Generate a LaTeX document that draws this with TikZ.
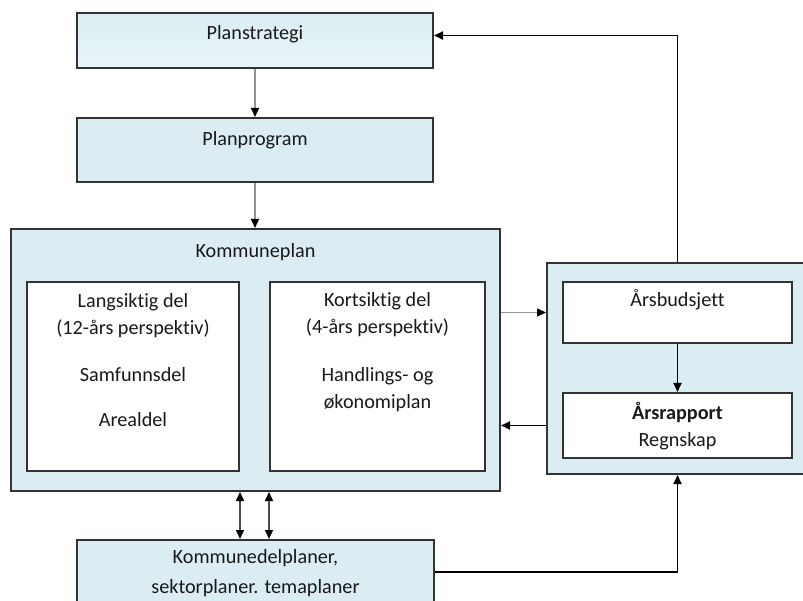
\documentclass[tikz,border=0pt]{standalone}
\usepackage{fontspec}
\setmainfont{Carlito}[Ligatures=NoCommon]
\usepackage{xcolor}
\usetikzlibrary{positioning}
\usetikzlibrary{arrows.meta}
\definecolor{boxblue}{RGB}{219,237,243}
\definecolor{boxpale}{RGB}{233,245,248}
\definecolor{linegray}{RGB}{150,150,150}

\begin{document}
\begin{tikzpicture}[x=1pt,y=-1pt,
  >={Triangle[length=9pt,width=8pt]},
  box/.style={draw=black!80,line width=2pt,fill=boxblue,inner sep=0pt},
  part/.style={draw=black!80,line width=2pt,fill=white,inner sep=0pt},
  txt/.style={font=\fontsize{20.2}{27}\selectfont,text=black!90,align=center,anchor=base,inner sep=0pt},
  conn/.style={line width=1.8pt,->},
  grayconn/.style={line width=1.5pt,draw=linegray,-{Triangle[length=9pt,width=8pt,color=black]}},
  dblconn/.style={line width=1.5pt,draw=black!70,{Triangle[length=9pt,width=8pt,color=black]}-{Triangle[length=9pt,width=8pt,color=black]}}]
  \useasboundingbox (0,0) rectangle (803,601);
  \clip (0,0) rectangle (803,601);
  % boxes
  \node[box,top color=boxblue,bottom color=boxpale,minimum width=356pt,minimum height=55pt] (strategi) at (255,40.5) {};
  \node[box,minimum width=356pt,minimum height=64pt] (program) at (255,150) {};
  \node[box,minimum width=489pt,minimum height=262pt] (kplan) at (255.5,360) {};
  \node[part,minimum width=212pt,minimum height=189pt] (lang) at (133,376.5) {};
  \node[part,minimum width=215pt,minimum height=189pt] (kort) at (377.5,376.5) {};
  \node[box,minimum width=280pt,minimum height=211pt] (aar) at (687,368.5) {};
  \node[part,minimum width=229pt,minimum height=61pt] (budsjett) at (677.5,312.5) {};
  \node[part,minimum width=229pt,minimum height=65pt] (rapport) at (677.5,425.5) {};
  \node[box,minimum width=357pt,minimum height=64pt] (delplan) at (255.5,572) {};
  % texts (base = last line)
  \node[txt] (t-strategi) at (255,40) {Planstrategi};
  \node[txt] (t-program) at (255,146) {Planprogram};
  \node[txt] (t-kplan) at (255.5,258) {Kommuneplan};
  \node[txt] (t-lang) at (133,426) {Langsiktig del\\(12-års perspektiv)\\[20pt]Samfunnsdel\\[18pt]Arealdel};
  \node[txt] (t-kort) at (377.5,408) {Kortsiktig del\\(4-års perspektiv)\\[20pt]Handlings- og\\økonomiplan};
  \node[txt] (t-budsjett) at (677.5,307) {Årsbudsjett};
  \node[txt] (t-rapport) at (677.5,446) {\textbf{Årsrapport}\\Regnskap};
  \node[txt] (t-delplan) at (255.5,593) {Kommunedelplaner,\\[3pt]sektorplaner. temaplaner};
  % connectors
  \draw[grayconn] (strategi) -- (program);
  \draw[grayconn] (program) -- (program.south |- kplan.north);
  \draw[grayconn] (kplan.east |- budsjett) -- (aar.west |- budsjett);
  \draw[conn] (aar.west |- rapport) -- (kplan.east |- rapport);
  \draw[conn] (budsjett) -- (rapport);
  \draw[conn] (aar.north -| budsjett) |- ([yshift=5pt]strategi.east);
  \draw[conn] (delplan.east) -| (aar.south -| budsjett);
  \draw[dblconn] (kplan.south -| lang.east) -- (delplan.north -| lang.east);
  \draw[dblconn] (kplan.south -| kort.west) -- (delplan.north -| kort.west);
\end{tikzpicture}
\end{document}
